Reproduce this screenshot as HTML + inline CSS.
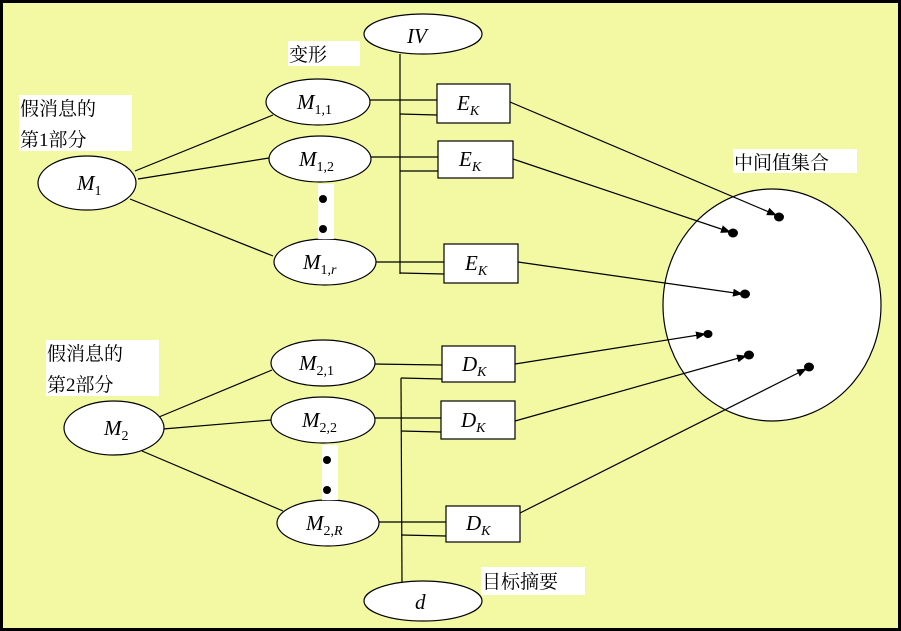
<!DOCTYPE html>
<html><head><meta charset="utf-8"><style>
html,body{margin:0;padding:0;background:#000;}
svg{display:block}
.cn{font-family:"Liberation Serif","Noto Serif CJK SC",serif;font-size:19px;fill:#000}
.m{font-family:"Liberation Serif",serif;font-style:italic;font-size:21px;fill:#000}
.s{font-size:14px;font-style:normal}
.si{font-size:14px}
</style></head><body>
<svg width="901" height="631" viewBox="0 0 901 631" xmlns="http://www.w3.org/2000/svg">
<defs><marker id="a" markerWidth="10" markerHeight="8" refX="9" refY="4" orient="auto" markerUnits="userSpaceOnUse"><path d="M0,0 L10,4 L0,8 z" fill="#000"/></marker></defs>
<rect x="3" y="3" width="895" height="625" fill="#f2f9a2"/>
<g stroke="#000" stroke-width="1.2" fill="none">
<ellipse cx="772" cy="305" rx="109" ry="116" fill="#fff"/>
<line x1="135" y1="171" x2="273" y2="115"/>
<line x1="138" y1="179" x2="269" y2="158"/>
<line x1="130" y1="199" x2="273" y2="256"/>
<line x1="159" y1="417" x2="272" y2="370"/>
<line x1="163" y1="429" x2="271" y2="420"/>
<line x1="142" y1="451" x2="283" y2="511"/>
<line x1="400" y1="54" x2="400" y2="274"/>
<line x1="370" y1="100" x2="437" y2="100"/>
<line x1="400" y1="114" x2="437" y2="115"/>
<line x1="371" y1="157" x2="438" y2="157"/>
<line x1="400" y1="171" x2="438" y2="171"/>
<line x1="376" y1="262" x2="444" y2="262"/>
<line x1="400" y1="273" x2="444" y2="274"/>
<line x1="401" y1="378" x2="402" y2="582"/>
<line x1="374" y1="364" x2="442" y2="365"/>
<line x1="401" y1="378" x2="442" y2="379"/>
<line x1="374" y1="418" x2="441" y2="418"/>
<line x1="401" y1="431" x2="441" y2="432"/>
<line x1="379" y1="522" x2="446" y2="522"/>
<line x1="401" y1="535" x2="446" y2="536"/>
<line x1="510" y1="102" x2="776" y2="215" marker-end="url(#a)"/>
<line x1="513" y1="159" x2="730" y2="232" marker-end="url(#a)"/>
<line x1="518" y1="262" x2="742" y2="294" marker-end="url(#a)"/>
<line x1="515" y1="364" x2="705" y2="334" marker-end="url(#a)"/>
<line x1="515" y1="421" x2="746" y2="356" marker-end="url(#a)"/>
<line x1="520" y1="513" x2="806" y2="369" marker-end="url(#a)"/>
<ellipse cx="423" cy="34" rx="59" ry="20" fill="#fff"/>
<ellipse cx="87" cy="183" rx="49" ry="27" fill="#fff"/>
<ellipse cx="318" cy="102" rx="52" ry="23" fill="#fff"/>
<ellipse cx="320" cy="159" rx="51" ry="23" fill="#fff"/>
<ellipse cx="325" cy="262" rx="51" ry="23" fill="#fff"/>
<ellipse cx="114" cy="428" rx="50" ry="27" fill="#fff"/>
<ellipse cx="323" cy="363" rx="52" ry="23" fill="#fff"/>
<ellipse cx="323" cy="420" rx="52" ry="23" fill="#fff"/>
<ellipse cx="328" cy="523" rx="51" ry="23" fill="#fff"/>
<ellipse cx="423" cy="601" rx="59" ry="20" fill="#fff"/>
<rect x="437" y="84" width="73" height="39" fill="#fff"/>
<rect x="438" y="141" width="75" height="37" fill="#fff"/>
<rect x="444" y="244" width="74" height="39" fill="#fff"/>
<rect x="442" y="346" width="73" height="36" fill="#fff"/>
<rect x="441" y="401" width="74" height="38" fill="#fff"/>
<rect x="446" y="506" width="74" height="36" fill="#fff"/>
</g>
<rect x="288" y="41" width="72" height="25" fill="#fff"/>
<rect x="19" y="95" width="113" height="56" fill="#fff"/>
<rect x="46" y="340" width="113" height="56" fill="#fff"/>
<rect x="481" y="567" width="104" height="28" fill="#fff"/>
<rect x="733" y="149" width="124" height="24" fill="#fff"/>
<rect x="318" y="184" width="16" height="55" fill="#fff"/>
<rect x="322" y="445" width="16" height="55" fill="#fff"/>
<g fill="#000">
<circle cx="323" cy="199" r="4"/><circle cx="323" cy="229" r="4"/>
<circle cx="327" cy="460" r="4"/><circle cx="327" cy="490" r="4"/>
<ellipse cx="779" cy="217" rx="5" ry="4.5"/>
<ellipse cx="733" cy="233" rx="5" ry="4.5"/>
<ellipse cx="745" cy="294" rx="5" ry="4.5"/>
<ellipse cx="708" cy="334" rx="4.5" ry="4"/>
<ellipse cx="749" cy="355" rx="5" ry="4.5"/>
<ellipse cx="809" cy="367" rx="5" ry="4.5"/>
</g>
<text class="cn" x="289" y="61">变形</text>
<text class="cn" x="20" y="115">假消息的</text>
<text class="cn" x="20" y="146">第1部分</text>
<text class="cn" x="47" y="360">假消息的</text>
<text class="cn" x="47" y="391">第2部分</text>
<text class="cn" x="482" y="588">目标摘要</text>
<text class="cn" x="734" y="169">中间值集合</text>
<text class="m" x="407" y="43">IV</text>
<text class="m" x="415" y="609">d</text>
<text class="m" x="77" y="190">M<tspan class="s" dy="5">1</tspan></text>
<text class="m" x="104" y="435">M<tspan class="s" dy="5">2</tspan></text>
<text class="m" x="297" y="109">M<tspan class="s" dy="5">1,1</tspan></text>
<text class="m" x="299" y="166">M<tspan class="s" dy="5">1,2</tspan></text>
<text class="m" x="303" y="269">M<tspan class="s" dy="5">1,</tspan><tspan class="si">r</tspan></text>
<text class="m" x="299" y="370">M<tspan class="s" dy="5">2,1</tspan></text>
<text class="m" x="302" y="427">M<tspan class="s" dy="5">2,2</tspan></text>
<text class="m" x="306" y="530">M<tspan class="s" dy="5">2,</tspan><tspan class="si">R</tspan></text>
<text class="m" x="457" y="110">E<tspan class="si" dy="5">K</tspan></text>
<text class="m" x="459" y="166">E<tspan class="si" dy="5">K</tspan></text>
<text class="m" x="465" y="270">E<tspan class="si" dy="5">K</tspan></text>
<text class="m" x="462" y="371">D<tspan class="si" dy="5">K</tspan></text>
<text class="m" x="461" y="427">D<tspan class="si" dy="5">K</tspan></text>
<text class="m" x="466" y="530">D<tspan class="si" dy="5">K</tspan></text>
</svg>
</body></html>
